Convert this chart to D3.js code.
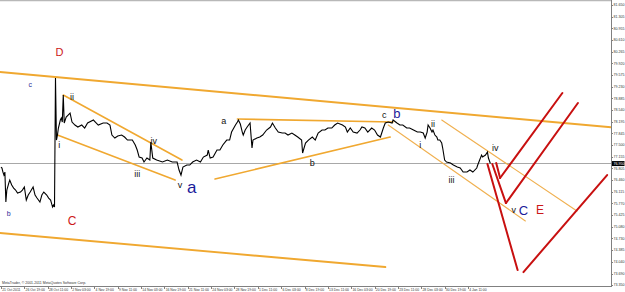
<!DOCTYPE html>
<html><head><meta charset="utf-8">
<script src="https://cdn.jsdelivr.net/npm/d3@7/dist/d3.min.js"></script>
<style>body{margin:0;background:#fff}svg{display:block;font-family:"Liberation Sans",Arial,sans-serif}</style>
</head><body><svg id="c" width="625" height="292"></svg>
<script>
// ---- data ----
const bars = [0,1,2,3,4,5,6,8,9,11,13,15,17,20,22,24,26,28,30,33,35,37,40,42,44,47,49,51,53,54,55,56,57,58,59,61,62,63,64,65,67,69,71,73,76,79,83,86,89,95,97,100,105,109,112,114,117,120,124,127,130,135,138,140,142,145,147,150,153,154,156,160,166,171,176,181,183,185,187,191,194,197,201,205,208,212,213,215,218,222,225,228,232,235,237,241,243,244,246,248,249,251,253,256,258,259,263,266,269,273,277,279,282,285,289,292,295,299,302,305,309,310,313,316,320,323,326,330,333,336,340,343,346,351,354,356,359,362,366,369,371,374,377,381,384,387,390,393,395,398,402,403,407,410,413,417,420,424,428,431,434,436,438,439,441,443,444,446,448,449,451,453,454,456,458,462,465,469,472,475,479,482,485,489,490,492,494,495,498,500,501,503];
const prices = [76.847,76.817,76.698,76.609,76.698,75.809,76.165,76.372,76.461,76.313,76.224,76.165,76.076,76.105,76.165,76.254,75.868,76.016,76.105,76.254,76.016,75.928,75.809,76.016,76.105,76.016,75.928,75.868,75.661,75.72,75.661,79.486,77.647,77.795,78.003,78.24,78.30,78.181,78.98,78.151,78.329,78.389,78.448,78.181,78.092,78.033,78.092,78.003,78.151,78.24,78.181,78.092,78.151,78.151,78.092,77.795,77.707,77.766,77.795,77.736,77.647,77.647,77.499,77.351,77.143,77.114,76.995,77.114,77.054,77.588,77.114,77.054,76.995,77.054,76.995,76.995,76.758,76.609,76.847,76.906,76.906,76.995,77.054,76.995,77.143,77.202,77.351,77.114,77.143,77.351,77.351,77.499,77.647,77.647,77.884,78.092,78.181,78.24,78.122,77.884,77.795,77.944,78.033,78.151,77.41,77.647,77.707,77.736,77.795,77.944,78.033,78.151,78.003,77.884,77.855,77.855,77.795,77.855,77.795,77.736,77.647,77.262,77.558,77.647,77.736,77.647,77.855,77.944,77.944,78.003,78.003,78.092,78.151,78.092,78.033,77.884,78.003,77.884,77.855,77.944,78.033,78.003,77.884,78.003,77.944,77.795,77.736,78.003,78.151,78.181,78.151,78.24,78.151,78.092,78.092,78.003,78.003,77.944,77.884,77.884,77.855,77.707,77.884,78.092,78.003,77.884,77.944,77.795,77.736,77.647,77.647,77.558,77.41,77.054,76.995,76.965,76.906,76.847,76.817,76.698,76.698,76.758,76.698,76.817,76.906,77.054,77.202,77.143,77.202,77.291,77.114,76.95];
const currentPrice = 76.95;

const xTickLabels = ["21 Oct 2011","26 Oct 19:00","28 Oct 11:00","2 Nov 03:00","4 Nov 19:00","9 Nov 11:00","14 Nov 03:00","16 Nov 19:00","21 Nov 11:00","24 Nov 03:00","28 Nov 19:00","1 Dec 11:00","6 Dec 03:00","8 Dec 19:00","13 Dec 11:00","16 Dec 03:00","20 Dec 19:00","23 Dec 11:00","28 Dec 03:00","30 Dec 19:00","4 Jan 11:00"];
const xTickBars = xTickLabels.map((d,i)=>i*24);
const yTickLabels = ["81.650","81.305","80.955","80.610","80.265","79.920","79.575","79.230","78.885","78.540","78.195","77.845","77.500","77.155","76.805","76.460","76.115","75.770","75.425","75.080","74.730","74.385","74.040","73.690","73.350"];

// trend lines: [bar1, price1, bar2, price2]
const orangeThick = [[-1,79.663,627,78.024],[-1,74.89,395,73.882]];
const orangeMid = [[64,78.98,186,77.054],[58,77.795,179,76.461],[243,78.27,403,78.181],[220,76.491,400,77.736]];
const orangeThin = [[398,78.092,539,75.246],[453,78.24,592,75.542]];
const redLines = [[500,76.936,531,73.793],[537,73.733,623,76.609],[505,76.936,519,75.779],[519,75.779,593,78.744],[509,76.965,513,76.521],[513,76.521,577,79.041]];

// wave labels: text, bar, price, kind, size
const labelText = ["D","c","b","C","i","ii","iii","iv","v","a","a","b","c","b","i","ii","iii","iv","v","C","E"];
const labelBar = [60,30,8,73,60,73,140,157,184,196,229,320,394,407,431,444,463,508,527,537,554];
const labelPrice = [80.138,79.219,75.394,75.127,77.41,78.833,76.55,77.529,76.224,76.076,78.122,76.876,78.30,78.30,77.41,78.033,76.372,77.321,75.483,75.423,75.453];
const labelKind = ["R","n","n","R","w","w","w","w","w","B","w","w","w","B","w","w","w","w","w","B","R"];
const labelSize = [11,7,7,12,9,9,9,9,9,17,9,9,9,13,9,9,9,9,9,13,12];

// ---- drawing ----
const svg = d3.select("#c");
const x = d3.scaleLinear().domain([0,627]).range([1,611]);
const y = d3.scaleLinear().domain([73.35,81.65]).range([285,5]);

svg.append("defs").append("clipPath").attr("id","pc").append("rect").attr("x",0).attr("y",1).attr("width",611).attr("height",285);
const plot = svg.append("g").attr("clip-path","url(#pc)");

// frame
svg.append("line").attr("x1",0).attr("x2",611).attr("y1",0.5).attr("y2",0.5).attr("stroke","#b8b8b8").attr("stroke-width",1.5);
svg.append("line").attr("x1",0).attr("x2",611).attr("y1",286.5).attr("y2",286.5).attr("stroke","#808080");
svg.append("line").attr("x1",611.5).attr("x2",611.5).attr("y1",0).attr("y2",287).attr("stroke","#808080");

// current price line
plot.append("line").attr("x1",0).attr("x2",611).attr("y1",Math.round(y(currentPrice))-0.5).attr("y2",Math.round(y(currentPrice))-0.5).attr("stroke","#a8a8a8");

const seg = (g,data,color,w)=>g.selectAll(null).data(data).enter().append("line")
  .attr("x1",d=>x(d[0])).attr("y1",d=>y(d[1])).attr("x2",d=>x(d[2])).attr("y2",d=>y(d[3]))
  .attr("stroke",color).attr("stroke-width",w).attr("stroke-linecap","round");
seg(plot,orangeThick,"#f0a830",2);
seg(plot,orangeMid,"#f0a830",1.6);
seg(plot,orangeThin,"#f0b050",1.1);

// price
const line = d3.line().x((d,i)=>x(bars[i])).y(d=>y(d));
plot.append("path").datum(prices).attr("d",line).attr("fill","none").attr("stroke","#000").attr("stroke-width",1.1);

seg(plot,redLines,"#c81010",2);

// labels
const kinds = {R:"#cc1818",B:"#1a1a9a",n:"#2a2a9a",w:"#111"};
svg.selectAll(null).data(labelText).enter().append("text")
  .attr("x",(d,i)=>x(labelBar[i])).attr("y",(d,i)=>y(labelPrice[i]))
  .attr("text-anchor","middle").attr("font-size",(d,i)=>labelSize[i])
  .attr("fill",(d,i)=>kinds[labelKind[i]]).text(d=>d);

// y axis
const yVals = yTickLabels.map(Number);
const ya = svg.append("g");
ya.selectAll(null).data(yVals).enter().append("line").attr("x1",611).attr("x2",613).attr("y1",d=>Math.round(y(d))+0.5).attr("y2",d=>Math.round(y(d))+0.5).attr("stroke","#808080");
ya.selectAll(null).data(yTickLabels).enter().append("text").attr("x",613.5).attr("y",(d,i)=>y(yVals[i])+1.4).attr("font-size",3.6).attr("fill","#333").text(d=>d);
// current price marker
ya.append("rect").attr("x",612).attr("y",y(currentPrice)-2.5).attr("width",12.5).attr("height",5).attr("fill","#000");
ya.append("text").attr("x",613.5).attr("y",y(currentPrice)+1.4).attr("font-size",3.6).attr("fill","#fff").text(currentPrice.toFixed(3));

// x axis
const xa = svg.append("g");
xa.selectAll(null).data(xTickBars).enter().append("line").attr("x1",d=>Math.round(x(d))+0.5).attr("x2",d=>Math.round(x(d))+0.5).attr("y1",286).attr("y2",289).attr("stroke","#808080");
xa.selectAll(null).data(xTickLabels).enter().append("text").attr("x",(d,i)=>x(xTickBars[i])+1.2).attr("y",291).attr("font-size",3.4).attr("fill","#333").text(d=>d);

svg.append("text").attr("x",2).attr("y",284.3).attr("font-size",3.5).attr("fill","#333").text("MetaTrader, © 2001-2011 MetaQuotes Software Corp.");
</script></body></html>
